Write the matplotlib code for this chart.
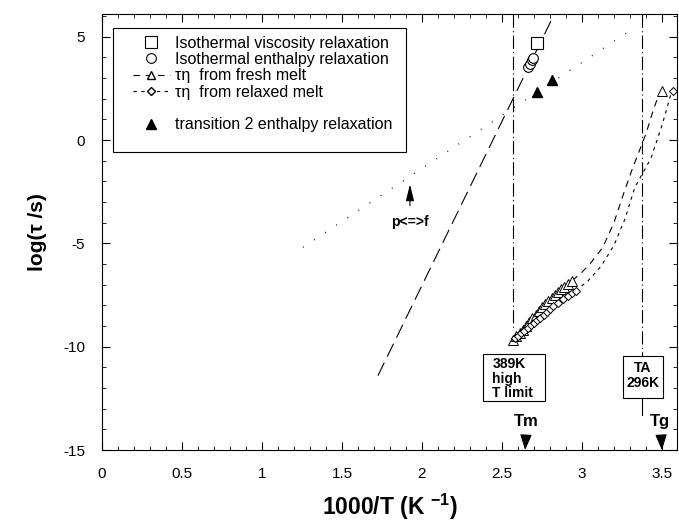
import matplotlib
matplotlib.use("Agg")
import matplotlib.pyplot as plt
from matplotlib.lines import Line2D
from matplotlib.patches import Rectangle
from matplotlib.ticker import MultipleLocator

plt.rcParams['font.family'] = ['Liberation Sans', 'DejaVu Sans']
plt.rcParams['mathtext.fontset'] = 'custom'
plt.rcParams['mathtext.rm'] = 'Liberation Sans'
plt.rcParams['mathtext.bf'] = 'Liberation Sans:bold'

# isothermal viscosity relaxation (squares)
visc_x = [2.72]
visc_y = [4.7]

# isothermal enthalpy relaxation (circles)
enth_x = [2.665, 2.675, 2.685, 2.695]
enth_y = [3.55, 3.7, 3.85, 3.95]

# transition 2 enthalpy relaxation (filled triangles)
tr2_x = [2.72, 2.81]
tr2_y = [2.33, 2.91]

# tau_eta from fresh melt (open triangles)
fresh_x = [2.57, 2.59, 2.61, 2.63, 2.65, 2.67, 2.69, 2.71, 2.73, 2.75,
           2.77, 2.79, 2.81, 2.83, 2.85, 2.87, 2.89, 2.91, 2.94, 3.50]
fresh_y = [-9.7, -9.5, -9.35, -9.2, -9.0, -8.8, -8.6, -8.45, -8.25, -8.1,
           -7.95, -7.8, -7.65, -7.5, -7.35, -7.2, -7.1, -6.95, -6.8, 2.38]
fresh_fit_x = [2.94, 3.00, 3.06, 3.13, 3.20, 3.26, 3.31, 3.36, 3.40, 3.44, 3.48]
fresh_fit_y = [-6.8, -6.4, -5.9, -5.2, -4.0, -2.6, -1.5, -0.5, 0.3, 1.3, 2.2]

# tau_eta from relaxed melt (diamonds)
relax_x = [2.58, 2.60, 2.62, 2.64, 2.66, 2.68, 2.70, 2.72, 2.74, 2.76,
           2.78, 2.80, 2.82, 2.85, 2.88, 2.91, 2.94, 2.96, 3.57]
relax_y = [-9.6, -9.5, -9.35, -9.25, -9.1, -8.95, -8.85, -8.7, -8.6, -8.45,
           -8.3, -8.2, -8.05, -7.9, -7.7, -7.55, -7.4, -7.3, 2.38]
relax_fit_x = [2.96, 3.04, 3.12, 3.20, 3.27, 3.33, 3.38, 3.43, 3.47, 3.50, 3.53, 3.555]
relax_fit_y = [-7.3, -6.8, -6.1, -5.1, -3.8, -2.3, -1.6, -0.9, 0.0, 0.7, 1.5, 2.2]

# steep long-dash line and dotted p<=>f line
steep_x = [1.725, 2.815]
steep_y = [-11.4, 5.9]
pf_x = [1.256, 3.28]
pf_y = [-5.19, 5.19]

# reference temperatures
t_high = 389
t_a = 296
tm_x = 2.645
tg_x = 3.5

fig = plt.figure(figsize=(6.79, 5.24), dpi=100)
ax = fig.add_axes([0.1502, 0.1412, 0.8468, 0.8321])

k = 'black'
ax.plot(steep_x, steep_y, color=k, lw=0.8, dashes=(13, 6))
ax.plot(pf_x, pf_y, color=k, lw=1.0, linestyle=(0, (0.6, 9)))
ax.plot(fresh_fit_x, fresh_fit_y, color=k, lw=0.8, dashes=(6, 5))
ax.plot(relax_fit_x, relax_fit_y, color=k, lw=0.8, dashes=(3, 4))

# vertical limits
x_high = 1000 / t_high
x_a = 1000 / t_a
ax.plot([x_high, x_high], [6.1, -9.2], color=k, lw=0.8, dashes=(12, 3, 1, 3))
ax.plot([x_a, x_a], [6.1, -10.44], color=k, lw=0.8, dashes=(12, 3, 1, 3))
ax.plot([x_a, x_a], [-12.48, -13.3], color=k, lw=0.8)

ax.plot(visc_x, visc_y, ls='none', marker='s', mfc='white', mec=k, ms=8, mew=0.8)
ax.plot(enth_x, enth_y, ls='none', marker='o', mfc='white', mec=k, ms=7, mew=0.8)
ax.plot(fresh_x, fresh_y, ls='none', marker='^', mfc='white', mec=k, ms=6.5, mew=0.7)
ax.plot(relax_x, relax_y, ls='none', marker='D', mfc='white', mec=k, ms=4.5, mew=0.7)
ax.plot(tr2_x, tr2_y, ls='none', marker='^', mfc=k, mec=k, ms=6.5)

# boxes
ax.add_patch(Rectangle((2.381, -12.62), 0.388, 2.28, fill=False, lw=0.8, ec=k))
ax.text(2.44, -10.5, '389K\nhigh\nT limit', ha='left', va='top', fontsize=10,
        fontweight='bold', linespacing=1.05)
ax.add_patch(Rectangle((3.256, -12.48), 0.25, 2.04, fill=False, lw=0.8, ec=k))
ax.text(3.38, -11.4, 'TA\n296K', ha='center', va='center', fontsize=10,
        fontweight='bold', linespacing=1.05)

# arrows
ax.annotate('Tm', xy=(tm_x, -15), xytext=(tm_x + 0.01, -13.6), ha='center', va='center',
            fontsize=12, fontweight='bold',
            arrowprops=dict(arrowstyle='-|>,head_length=0.8,head_width=0.3',
                            color=k, lw=0.8, shrinkA=5, shrinkB=0))
ax.annotate('Tg', xy=(tg_x, -15), xytext=(tg_x - 0.01, -13.6), ha='center', va='center',
            fontsize=12, fontweight='bold',
            arrowprops=dict(arrowstyle='-|>,head_length=0.8,head_width=0.3',
                            color=k, lw=0.8, shrinkA=5, shrinkB=0))
ax.annotate('p<=>f', xy=(1.925, -2.15), xytext=(1.925, -3.98), ha='center', va='center',
            fontsize=10, fontweight='bold',
            arrowprops=dict(arrowstyle='-|>,head_length=1.0,head_width=0.25',
                            color=k, lw=0.8, shrinkA=5, shrinkB=0))

# legend
handles = [
    Line2D([], [], ls='none', marker='s', mfc='white', mec=k, ms=8, mew=0.8),
    Line2D([], [], ls='none', marker='o', mfc='white', mec=k, ms=7, mew=0.8),
    Line2D([], [], color=k, lw=0.8, dashes=(6, 5), marker='^', mfc='white', mec=k, ms=6),
    Line2D([], [], color=k, lw=0.8, dashes=(3, 4), marker='D', mfc='white', mec=k, ms=4.5),
    Line2D([], [], ls='none'),
    Line2D([], [], ls='none', marker='^', mfc=k, mec=k, ms=6.5),
]
labels = ['Isothermal viscosity relaxation', 'Isothermal enthalpy relaxation',
          '\u03c4\u03b7  from fresh melt', '\u03c4\u03b7  from relaxed melt', ' ',
          'transition 2 enthalpy relaxation']
ax.legend(handles, labels, loc='upper left', bbox_to_anchor=(0.054, 0.950),
          frameon=False, borderpad=0, borderaxespad=0, fontsize=11.5,
          labelspacing=0.08, handlelength=2.3, handletextpad=0.3)
ax.add_patch(Rectangle((0.0191, 0.6835), 0.5096, 0.2844, transform=ax.transAxes,
                       fill=False, lw=0.8, ec=k))

ax.set_xlim(0, 3.594)
ax.set_ylim(-15, 6.1)
ax.set_xticks([0, 0.5, 1, 1.5, 2, 2.5, 3, 3.5])
ax.set_xticklabels(['0', '0.5', '1', '1.5', '2', '2.5', '3', '3.5'])
ax.set_yticks([-15, -10, -5, 0, 5])
ax.set_yticklabels(['-15', '-10', '-5', '0', '5'])
ax.xaxis.set_minor_locator(MultipleLocator(0.1))
ax.yaxis.set_minor_locator(MultipleLocator(1))
ax.tick_params(which='both', direction='in', top=True, right=True, labelsize=11, pad=12)
ax.tick_params(which='major', length=6, width=0.8)
ax.tick_params(which='minor', length=3, width=0.6)
for s in ax.spines.values():
    s.set_linewidth(0.8)

ax.set_xlabel('1000/T (K $^{\\mathbf{-1}}$)', fontsize=16.5, fontweight='bold', labelpad=8)
ax.set_ylabel('log(\u03c4 /s)', fontsize=15, fontweight='bold', labelpad=12)

fig.savefig('out.png', dpi=100)
